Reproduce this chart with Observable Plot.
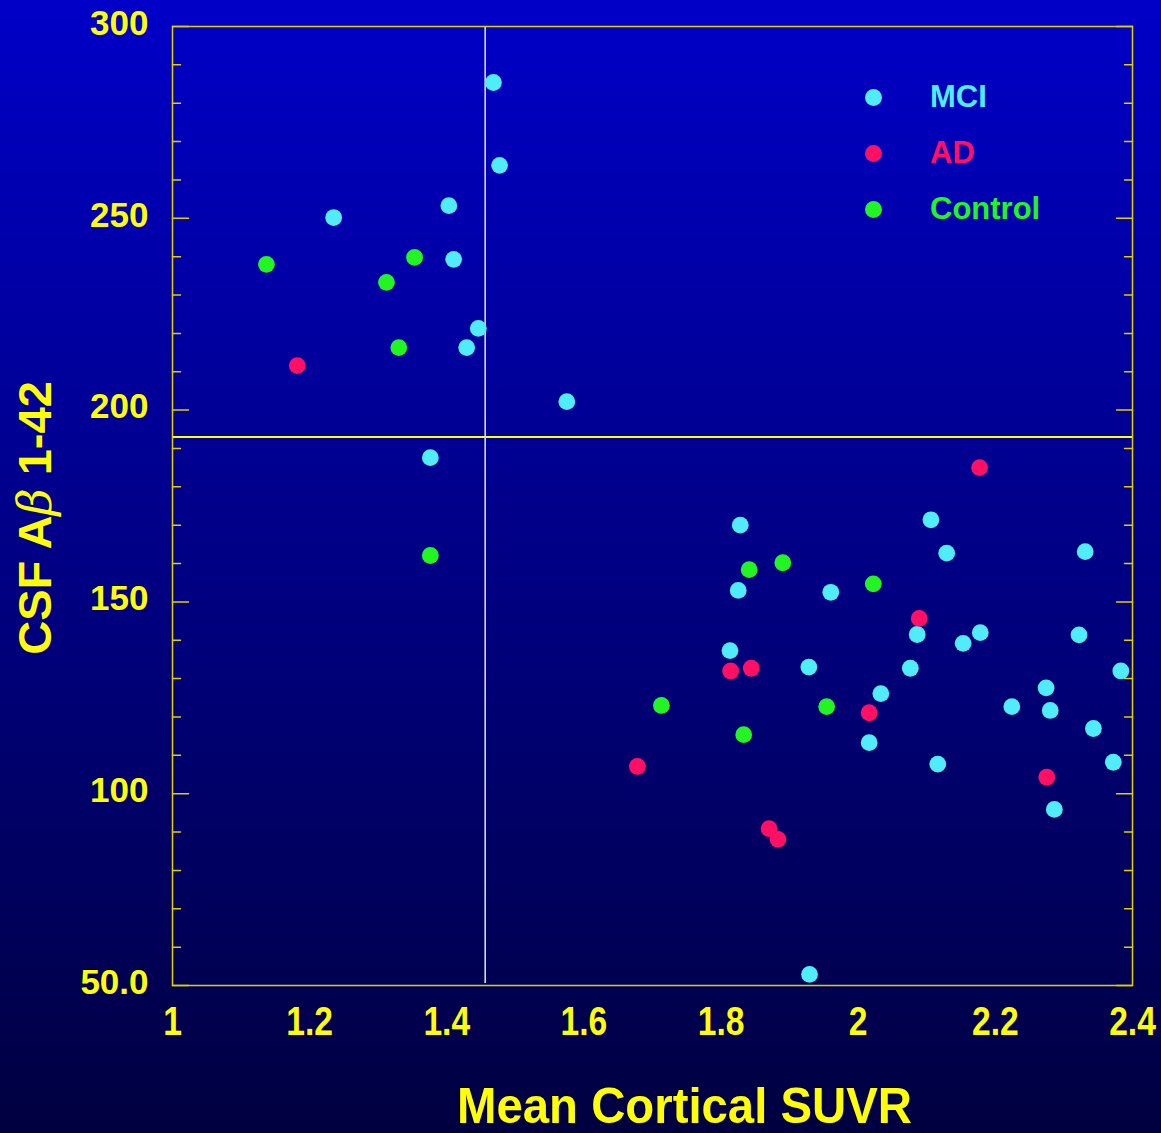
<!DOCTYPE html>
<html><head><meta charset="utf-8">
<script src="https://cdn.jsdelivr.net/npm/d3@7"></script>
<script src="https://cdn.jsdelivr.net/npm/@observablehq/plot@0.6"></script>
<style>
html,body{margin:0;padding:0;}
body{width:1161px;height:1133px;overflow:hidden;background:linear-gradient(to bottom,#0000c8 0%,#000040 100%);}
#wrap{position:relative;width:1161px;height:1133px;}
#legend{position:absolute;left:0;top:0;font-family:"Liberation Sans",Arial,sans-serif;font-weight:bold;font-size:31px;}
.row{position:absolute;left:865px;height:40px;display:flex;align-items:center;}
.sw{width:17px;height:17px;border-radius:50%;margin-right:48px;}
</style></head>
<body><div id="wrap"><div id="legend"></div></div>
<script>
const groups = ["MCI", "AD", "Control"];
const groupColors = ["#50ecfa", "#ff1064", "#22f522"];

const mciX = [1.468, 1.477, 1.235, 1.403, 1.410, 1.446, 1.429, 1.575, 1.376,
  1.828, 2.106, 2.129, 2.331, 1.825, 1.960, 2.086, 2.178, 2.153, 2.322, 1.813, 1.928,
  2.076, 2.383, 2.033, 2.274, 2.224, 2.280, 2.343, 2.016, 2.116, 2.372, 2.286, 1.929];
const mciY = [285.4, 263.8, 250.2, 253.3, 239.3, 221.3, 216.3, 202.2, 187.6,
  170.0, 171.4, 162.7, 163.1, 153.0, 152.5, 141.5, 142.0, 139.2, 141.4, 137.3, 133.0,
  132.7, 132.0, 126.1, 127.6, 122.7, 121.7, 117.0, 113.3, 107.7, 108.2, 95.9, 52.9];

const adX = [1.182, 2.089, 2.177, 1.814, 1.844, 2.016, 2.275, 1.870, 1.883, 1.678];
const adY = [211.6, 145.7, 185.0, 132.0, 132.7, 121.1, 104.3, 90.9, 88.1, 107.1];

const controlX = [1.137, 1.312, 1.353, 1.330, 1.376, 1.841, 1.890, 2.022, 1.713, 1.954, 1.833];
const controlY = [238.0, 233.3, 239.8, 216.3, 162.1, 158.4, 160.2, 154.7, 123.0, 122.7, 115.4];

const xTicks = [1, 1.2, 1.4, 1.6, 1.8, 2, 2.2, 2.4];
const xTickLabels = ["1", "1.2", "1.4", "1.6", "1.8", "2", "2.2", "2.4"];
const yTicks = [50, 100, 150, 200, 250, 300];
const yTickLabels = ["50.0", "100", "150", "200", "250", "300"];
const yMinorTicks = [60, 70, 80, 90, 110, 120, 130, 140, 160, 170, 180, 190, 210, 220, 230, 240, 260, 270, 280, 290];

const xCutoff = 1.456;
const yCutoff = 193;

const xTitle = "Mean Cortical SUVR";
const yTitleParts = ["CSF A", "\u03b2", " 1-42"];

const data = [
  ...mciX.map((x, i) => ({x, y: mciY[i], g: "MCI"})),
  ...adX.map((x, i) => ({x, y: adY[i], g: "AD"})),
  ...controlX.map((x, i) => ({x, y: controlY[i], g: "Control"}))
];

const tickShape = {draw(ctx, l) { ctx.moveTo(0, 0); ctx.lineTo(0, -l); }};
const axisColor = "#e0d000";
const sans = "'Liberation Sans', Arial, sans-serif";

const chart = Plot.plot({
  width: 1161, height: 1133,
  marginLeft: 172, marginRight: 29, marginTop: 26, marginBottom: 148,
  style: {background: "transparent", color: "#ffff00", overflow: "visible"},
  x: {domain: [1, 2.4]},
  y: {domain: [50, 300]},
  color: {domain: groups, range: groupColors},
  marks: [
    Plot.ruleY([yCutoff], {stroke: "#ffff00", strokeWidth: 2}),
    Plot.ruleX([xCutoff], {stroke: "#d8d8f0", strokeWidth: 1.6, insetBottom: 2}),
    Plot.frame({stroke: axisColor, strokeWidth: 1.5}),
    Plot.vector(yMinorTicks, {y: d => d, frameAnchor: "left", rotate: 90, length: 8, anchor: "start", shape: tickShape, stroke: axisColor, strokeWidth: 1.5}),
    Plot.vector(yTicks, {y: d => d, frameAnchor: "left", rotate: 90, length: 16, anchor: "start", shape: tickShape, stroke: axisColor, strokeWidth: 1.5}),
    Plot.vector(yMinorTicks, {y: d => d, frameAnchor: "right", rotate: -90, length: 8, anchor: "start", shape: tickShape, stroke: axisColor, strokeWidth: 1.5}),
    Plot.vector(yTicks, {y: d => d, frameAnchor: "right", rotate: -90, length: 16, anchor: "start", shape: tickShape, stroke: axisColor, strokeWidth: 1.5}),
    Plot.axisX({ticks: xTicks, tickFormat: d => xTickLabels[xTicks.indexOf(d)], tickSize: 0, tickPadding: 21,
      label: null, fill: "#ffff00", fontSize: 40, fontWeight: "bold", fontFamily: sans, className: "xlab"}),
    Plot.axisY({ticks: yTicks, tickFormat: d => yTickLabels[yTicks.indexOf(d)], tickSize: 0, tickPadding: 24, dy: -3,
      label: null, fill: "#ffff00", fontSize: 35, fontWeight: "bold", fontFamily: sans}),
    Plot.dot(data, {x: "x", y: "y", fill: "g", r: 8.4, stroke: null}),
    Plot.text([xTitle], {frameAnchor: "bottom", dx: 32, dy: 137, fill: "#ffff00", fontSize: 50, fontWeight: "bold", fontFamily: sans, className: "xtitle"}),
    Plot.text([yTitleParts.join("")], {frameAnchor: "left", textAnchor: "middle", dx: -137, dy: 12, rotate: -90, fill: "#ffff00", fontSize: 47, fontWeight: "bold", fontFamily: sans, className: "ytitle"})
  ]
});
document.getElementById("wrap").prepend(chart);

// condense the x-axis tick labels and title like the original typeface
chart.querySelectorAll(".xlab text").forEach(t => {
  const w = t.getComputedTextLength();
  t.setAttribute("textLength", (w * 0.84).toFixed(1));
  t.setAttribute("lengthAdjust", "spacingAndGlyphs");
});
chart.querySelectorAll(".xtitle text").forEach(t => {
  t.setAttribute("textLength", "455");
  t.setAttribute("lengthAdjust", "spacingAndGlyphs");
});
// thin beta in the y title
chart.querySelectorAll(".ytitle text").forEach(t => {
  t.textContent = "";
  yTitleParts.forEach((p, i) => {
    const s = document.createElementNS("http://www.w3.org/2000/svg", "tspan");
    s.textContent = p;
    if (i === 1) { s.setAttribute("font-weight", "normal"); s.setAttribute("font-family", "'DejaVu Serif', serif"); s.setAttribute("font-style", "italic"); }
    t.appendChild(s);
  });
});

const legend = document.getElementById("legend");
groups.forEach((g, i) => {
  const row = document.createElement("div");
  row.className = "row";
  row.style.top = (97 - 20 + i * 56) + "px";
  const sw = document.createElement("div");
  sw.className = "sw";
  sw.style.background = groupColors[i];
  const t = document.createElement("span");
  t.textContent = g;
  t.style.color = groupColors[i];
  row.appendChild(sw); row.appendChild(t);
  legend.appendChild(row);
});
</script>
</body></html>
